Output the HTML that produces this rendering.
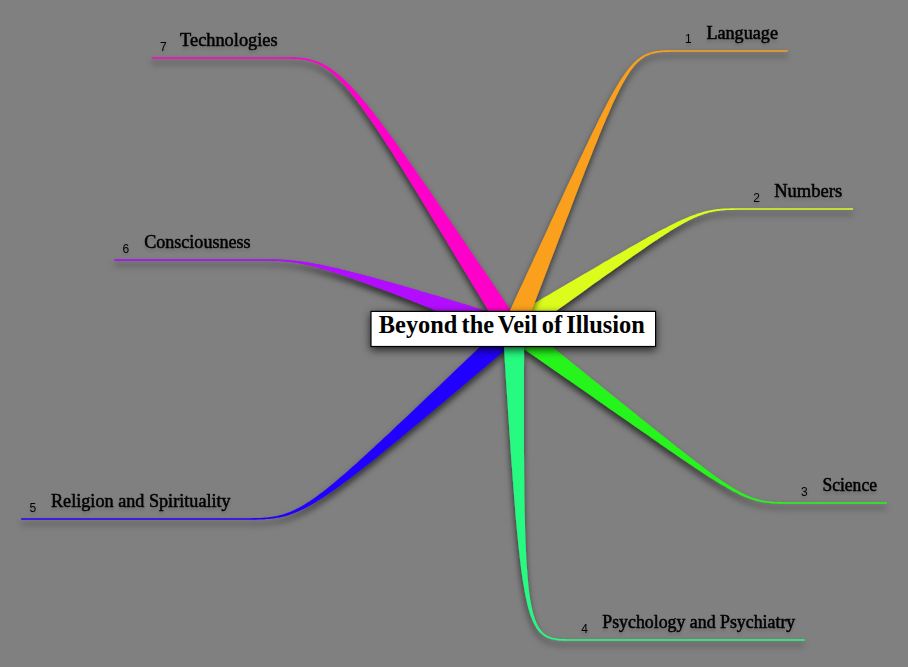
<!DOCTYPE html>
<html><head><meta charset="utf-8"><title>Beyond the Veil of Illusion</title>
<style>
html,body{margin:0;padding:0;background:#808080;}
body{width:908px;height:667px;overflow:hidden;position:relative;font-family:"Liberation Serif",serif;}
svg{position:absolute;left:0;top:0;display:block}
.t{font-family:"Liberation Serif",serif;font-size:18px;fill:#000;stroke:#000;stroke-width:0.5px;}
.n{font-family:"Liberation Sans",sans-serif;font-size:12px;fill:#000;}
.ttl{font-family:"Liberation Serif",serif;font-size:25px;font-weight:bold;fill:#000;word-spacing:-2px;}
</style></head><body>
<svg width="908" height="667" viewBox="0 0 908 667">
<defs>
<filter id="sh" x="-20%" y="-20%" width="140%" height="140%" filterUnits="objectBoundingBox">
<feDropShadow dx="-0.4" dy="4.6" stdDeviation="3" flood-color="#000" flood-opacity="0.64"/>
</filter>
<filter id="shb" x="-10%" y="-40%" width="120%" height="200%">
<feDropShadow dx="0" dy="3" stdDeviation="4" flood-color="#000" flood-opacity="0.72"/>
</filter>
<filter id="sht" x="-10%" y="-40%" width="120%" height="200%">
<feDropShadow dx="0" dy="2.5" stdDeviation="1.6" flood-color="#000" flood-opacity="0.16"/>
</filter>
</defs>
<rect width="908" height="667" fill="#808080"/>
<path d="M516.7,320.3 L510.1,318.2 L503.7,316.2 L497.3,314.2 L491.2,312.3 L485.1,310.5 L479.2,308.7 L473.3,306.9 L467.7,305.1 L462.1,303.4 L456.7,301.8 L451.3,300.2 L446.1,298.6 L441.0,297.1 L436.1,295.6 L431.2,294.2 L426.4,292.8 L421.8,291.4 L417.3,290.1 L412.8,288.8 L408.5,287.5 L404.3,286.3 L400.2,285.1 L396.1,283.9 L392.2,282.8 L388.4,281.7 L384.6,280.7 L381.0,279.7 L377.4,278.7 L373.9,277.7 L370.5,276.8 L367.2,275.9 L364.0,275.1 L360.9,274.3 L357.8,273.5 L354.8,272.7 L351.9,271.9 L349.1,271.2 L346.3,270.5 L343.6,269.9 L341.0,269.3 L338.5,268.6 L336.0,268.1 L333.5,267.5 L331.2,267.0 L328.9,266.5 L326.6,266.0 L324.4,265.5 L322.3,265.1 L320.2,264.6 L318.2,264.2 L316.2,263.9 L314.3,263.5 L312.4,263.2 L310.6,262.8 L308.8,262.5 L307.0,262.2 L305.3,262.0 L303.6,261.7 L301.9,261.5 L300.3,261.3 L298.7,261.0 L297.2,260.9 L295.7,260.7 L294.2,260.5 L292.7,260.4 L291.3,260.2 L289.8,260.1 L288.4,260.0 L287.0,259.9 L285.7,259.8 L284.3,259.7 L283.0,259.6 L281.6,259.5 L280.3,259.5 L279.0,259.4 L277.7,259.4 L276.4,259.3 L275.1,259.3 L273.8,259.3 L272.5,259.3 L271.2,259.2 L269.8,259.2 L268.5,259.2 L267.2,259.2 L265.9,259.2 L264.5,259.2 L263.2,259.2 L261.8,259.2 L260.4,259.2 L114.4,259.2 L114.4,260.8 L260.4,260.8 L261.8,260.8 L263.2,260.8 L264.5,260.8 L265.9,260.8 L267.2,260.8 L268.5,260.8 L269.8,260.8 L271.1,260.9 L272.4,260.9 L273.7,260.9 L275.0,261.0 L276.3,261.0 L277.6,261.1 L278.9,261.1 L280.2,261.2 L281.5,261.3 L282.8,261.4 L284.2,261.5 L285.5,261.6 L286.9,261.7 L288.2,261.9 L289.6,262.0 L291.0,262.2 L292.5,262.4 L293.9,262.6 L295.4,262.8 L296.9,263.1 L298.4,263.3 L299.9,263.6 L301.5,263.9 L303.1,264.2 L304.8,264.6 L306.5,264.9 L308.2,265.3 L310.0,265.7 L311.8,266.2 L313.6,266.6 L315.5,267.1 L317.4,267.6 L319.4,268.2 L321.4,268.7 L323.5,269.3 L325.6,269.9 L327.8,270.6 L330.1,271.3 L332.3,272.0 L334.7,272.7 L337.1,273.5 L339.6,274.3 L342.1,275.1 L344.8,276.0 L347.4,276.9 L350.2,277.8 L353.0,278.8 L355.9,279.8 L358.8,280.9 L361.9,282.0 L365.0,283.1 L368.2,284.2 L371.5,285.5 L374.8,286.7 L378.3,288.0 L381.8,289.3 L385.4,290.7 L389.1,292.1 L392.9,293.6 L396.8,295.1 L400.8,296.6 L404.9,298.2 L409.0,299.8 L413.3,301.5 L417.7,303.3 L422.2,305.1 L426.8,306.9 L431.5,308.8 L436.3,310.7 L441.2,312.7 L446.2,314.7 L451.3,316.8 L456.6,319.0 L462.0,321.2 L467.4,323.4 L473.0,325.7 L478.8,328.1 L484.6,330.5 L490.6,333.0 L496.7,335.5 L502.9,338.1 L509.3,340.7Z" fill="#B208FF" filter="url(#sh)"/>
<path d="M507.0,321.3 L500.1,327.8 L493.4,334.2 L486.8,340.4 L480.4,346.5 L474.1,352.5 L468.0,358.3 L462.0,364.0 L456.2,369.6 L450.5,375.0 L445.0,380.3 L439.6,385.4 L434.3,390.4 L429.1,395.3 L424.1,400.1 L419.2,404.7 L414.5,409.3 L409.8,413.7 L405.3,417.9 L400.9,422.1 L396.6,426.1 L392.5,430.1 L388.4,433.9 L384.4,437.6 L380.6,441.2 L376.8,444.6 L373.2,448.0 L369.6,451.3 L366.2,454.5 L362.8,457.5 L359.5,460.5 L356.4,463.4 L353.3,466.1 L350.3,468.8 L347.3,471.4 L344.5,473.9 L341.7,476.3 L339.0,478.6 L336.4,480.8 L333.8,483.0 L331.3,485.0 L328.9,487.0 L326.5,488.9 L324.2,490.7 L321.9,492.4 L319.7,494.1 L317.6,495.7 L315.5,497.2 L313.4,498.7 L311.4,500.0 L309.5,501.4 L307.6,502.6 L305.7,503.8 L303.8,504.9 L302.0,506.0 L300.2,507.0 L298.5,507.9 L296.7,508.8 L295.0,509.7 L293.3,510.5 L291.7,511.2 L290.0,511.9 L288.4,512.5 L286.8,513.1 L285.1,513.7 L283.5,514.2 L281.9,514.7 L280.3,515.1 L278.7,515.5 L277.1,515.9 L275.5,516.2 L273.8,516.5 L272.2,516.8 L270.5,517.0 L268.9,517.2 L267.2,517.4 L265.5,517.5 L263.7,517.7 L262.0,517.8 L260.2,517.9 L258.4,518.0 L256.6,518.0 L254.7,518.1 L252.8,518.1 L250.8,518.2 L248.8,518.2 L246.8,518.2 L244.7,518.2 L242.6,518.2 L240.4,518.2 L21.1,518.2 L21.1,519.8 L240.4,519.8 L242.6,519.8 L244.7,519.8 L246.8,519.8 L248.8,519.8 L250.8,519.8 L252.8,519.8 L254.7,519.7 L256.6,519.7 L258.5,519.6 L260.3,519.6 L262.1,519.5 L263.9,519.4 L265.6,519.3 L267.3,519.1 L269.1,519.0 L270.8,518.8 L272.4,518.6 L274.1,518.4 L275.8,518.1 L277.5,517.8 L279.1,517.5 L280.8,517.2 L282.5,516.8 L284.1,516.4 L285.8,515.9 L287.5,515.4 L289.2,514.9 L290.9,514.3 L292.7,513.7 L294.4,513.0 L296.2,512.3 L298.0,511.5 L299.8,510.7 L301.7,509.8 L303.6,508.9 L305.5,507.9 L307.5,506.9 L309.5,505.8 L311.5,504.7 L313.6,503.5 L315.7,502.2 L317.9,500.8 L320.1,499.4 L322.4,498.0 L324.8,496.4 L327.2,494.8 L329.6,493.1 L332.2,491.4 L334.8,489.6 L337.4,487.7 L340.2,485.7 L343.0,483.6 L345.8,481.5 L348.8,479.2 L351.8,476.9 L355.0,474.5 L358.2,472.0 L361.5,469.5 L364.9,466.8 L368.4,464.0 L371.9,461.2 L375.6,458.2 L379.4,455.2 L383.3,452.0 L387.2,448.8 L391.3,445.5 L395.5,442.0 L399.9,438.5 L404.3,434.8 L408.8,431.0 L413.5,427.1 L418.3,423.2 L423.2,419.1 L428.3,414.8 L433.4,410.5 L438.7,406.0 L444.2,401.5 L449.7,396.8 L455.5,392.0 L461.3,387.0 L467.3,382.0 L473.5,376.8 L479.8,371.5 L486.2,366.0 L492.8,360.4 L499.6,354.7 L506.5,348.9 L513.6,342.9 L520.8,336.7Z" fill="#2300FF" filter="url(#sh)"/>
<path d="M506.9,337.4 L514.9,342.9 L522.8,348.3 L530.4,353.6 L537.9,358.8 L545.1,363.8 L552.2,368.7 L559.1,373.5 L565.9,378.2 L572.5,382.8 L578.9,387.2 L585.1,391.6 L591.2,395.8 L597.1,399.9 L602.9,404.0 L608.5,407.9 L614.0,411.7 L619.3,415.4 L624.5,419.0 L629.5,422.5 L634.4,426.0 L639.2,429.3 L643.8,432.5 L648.3,435.6 L652.7,438.7 L656.9,441.6 L661.0,444.5 L665.0,447.2 L668.9,449.9 L672.7,452.5 L676.3,455.0 L679.9,457.4 L683.3,459.8 L686.6,462.1 L689.9,464.2 L693.0,466.3 L696.1,468.4 L699.0,470.3 L701.9,472.2 L704.6,474.0 L707.3,475.8 L709.9,477.5 L712.5,479.1 L714.9,480.6 L717.3,482.1 L719.6,483.5 L721.8,484.8 L724.0,486.1 L726.1,487.3 L728.2,488.5 L730.2,489.6 L732.1,490.7 L734.0,491.7 L735.9,492.6 L737.7,493.5 L739.4,494.4 L741.1,495.2 L742.8,496.0 L744.4,496.7 L746.1,497.3 L747.6,498.0 L749.2,498.5 L750.7,499.1 L752.2,499.6 L753.7,500.1 L755.2,500.5 L756.7,500.9 L758.1,501.2 L759.6,501.6 L761.0,501.9 L762.4,502.2 L763.9,502.4 L765.3,502.6 L766.7,502.8 L768.2,503.0 L769.7,503.1 L771.1,503.3 L772.6,503.4 L774.1,503.5 L775.7,503.6 L777.2,503.6 L778.8,503.7 L780.4,503.7 L782.1,503.7 L783.8,503.8 L785.5,503.8 L787.2,503.8 L789.1,503.8 L790.9,503.8 L792.8,503.8 L886.9,503.8 L886.9,502.2 L792.8,502.2 L790.9,502.2 L789.1,502.2 L787.3,502.2 L785.5,502.2 L783.8,502.2 L782.1,502.1 L780.5,502.1 L778.9,502.1 L777.3,502.0 L775.8,501.9 L774.2,501.9 L772.7,501.8 L771.3,501.6 L769.8,501.5 L768.4,501.3 L767.0,501.2 L765.6,501.0 L764.1,500.7 L762.7,500.5 L761.3,500.2 L760.0,499.8 L758.5,499.5 L757.1,499.1 L755.7,498.7 L754.3,498.2 L752.9,497.7 L751.4,497.2 L749.9,496.6 L748.4,496.0 L746.9,495.3 L745.4,494.6 L743.8,493.9 L742.2,493.1 L740.5,492.2 L738.8,491.3 L737.1,490.3 L735.3,489.3 L733.5,488.2 L731.7,487.1 L729.7,485.9 L727.8,484.6 L725.8,483.3 L723.7,481.9 L721.5,480.5 L719.3,478.9 L717.1,477.4 L714.7,475.7 L712.3,474.0 L709.8,472.1 L707.3,470.3 L704.6,468.3 L701.9,466.3 L699.1,464.1 L696.2,461.9 L693.2,459.6 L690.1,457.3 L686.9,454.8 L683.7,452.2 L680.3,449.6 L676.8,446.9 L673.2,444.0 L669.6,441.1 L665.8,438.1 L661.8,435.0 L657.8,431.8 L653.7,428.4 L649.4,425.0 L645.0,421.5 L640.5,417.9 L635.8,414.1 L631.0,410.3 L626.1,406.3 L621.1,402.3 L615.9,398.1 L610.5,393.8 L605.1,389.4 L599.4,384.8 L593.7,380.2 L587.7,375.4 L581.7,370.5 L575.4,365.5 L569.0,360.3 L562.4,355.0 L555.7,349.6 L548.8,344.1 L541.7,338.4 L534.5,332.6 L527.1,326.7 L519.5,320.6Z" fill="#27F51B" filter="url(#sh)"/>
<path d="M519.4,337.4 L525.3,333.2 L531.1,329.0 L536.8,324.9 L542.3,321.0 L547.7,317.1 L553.0,313.3 L558.1,309.6 L563.1,306.0 L568.0,302.5 L572.8,299.0 L577.4,295.7 L582.0,292.4 L586.4,289.2 L590.7,286.1 L594.9,283.1 L599.0,280.2 L603.0,277.3 L606.9,274.6 L610.7,271.9 L614.4,269.2 L618.0,266.7 L621.5,264.2 L624.9,261.8 L628.2,259.5 L631.4,257.2 L634.5,255.0 L637.6,252.9 L640.5,250.9 L643.4,248.9 L646.2,247.0 L648.9,245.1 L651.6,243.3 L654.1,241.6 L656.7,239.9 L659.1,238.3 L661.5,236.7 L663.8,235.2 L666.0,233.8 L668.2,232.4 L670.3,231.1 L672.4,229.8 L674.4,228.6 L676.3,227.4 L678.2,226.3 L680.1,225.2 L681.9,224.2 L683.7,223.2 L685.4,222.3 L687.1,221.4 L688.7,220.5 L690.4,219.7 L691.9,219.0 L693.5,218.3 L695.0,217.6 L696.5,216.9 L697.9,216.3 L699.4,215.8 L700.8,215.2 L702.2,214.7 L703.6,214.2 L704.9,213.8 L706.3,213.4 L707.6,213.0 L708.9,212.6 L710.3,212.3 L711.6,212.0 L712.9,211.7 L714.2,211.5 L715.5,211.3 L716.8,211.1 L718.1,210.9 L719.4,210.7 L720.8,210.5 L722.1,210.4 L723.5,210.3 L724.9,210.2 L726.2,210.1 L727.7,210.0 L729.1,210.0 L730.5,209.9 L732.0,209.9 L733.5,209.9 L735.1,209.8 L736.6,209.8 L738.2,209.8 L739.9,209.8 L741.5,209.8 L743.2,209.8 L745.0,209.8 L853.0,209.8 L853.0,208.2 L745.0,208.2 L743.2,208.2 L741.5,208.2 L739.9,208.2 L738.2,208.2 L736.6,208.2 L735.0,208.2 L733.5,208.3 L732.0,208.3 L730.5,208.3 L729.0,208.4 L727.6,208.4 L726.2,208.5 L724.8,208.5 L723.4,208.6 L722.0,208.7 L720.6,208.8 L719.3,209.0 L717.9,209.1 L716.6,209.3 L715.2,209.4 L713.9,209.6 L712.5,209.9 L711.2,210.1 L709.8,210.4 L708.5,210.6 L707.1,210.9 L705.7,211.3 L704.3,211.6 L702.9,212.0 L701.5,212.4 L700.0,212.9 L698.5,213.3 L697.0,213.8 L695.5,214.4 L693.9,214.9 L692.3,215.5 L690.7,216.1 L689.0,216.8 L687.3,217.5 L685.6,218.2 L683.8,219.0 L682.0,219.8 L680.1,220.7 L678.2,221.6 L676.2,222.5 L674.2,223.5 L672.2,224.5 L670.0,225.6 L667.8,226.7 L665.6,227.9 L663.3,229.1 L660.9,230.3 L658.4,231.6 L655.9,233.0 L653.3,234.4 L650.7,235.8 L647.9,237.3 L645.1,238.9 L642.2,240.5 L639.2,242.2 L636.2,243.9 L633.0,245.7 L629.8,247.5 L626.4,249.4 L623.0,251.4 L619.5,253.4 L615.9,255.5 L612.2,257.6 L608.3,259.9 L604.4,262.1 L600.4,264.5 L596.3,266.9 L592.0,269.4 L587.7,271.9 L583.2,274.5 L578.6,277.2 L573.9,280.0 L569.1,282.8 L564.1,285.7 L559.0,288.7 L553.8,291.7 L548.5,294.9 L543.0,298.1 L537.5,301.4 L531.7,304.7 L525.9,308.2 L519.8,311.7 L513.7,315.3 L507.4,319.0Z" fill="#DCFC1F" filter="url(#sh)"/>
<path d="M520.2,324.3 L514.6,316.0 L509.1,307.9 L503.7,299.9 L498.5,292.1 L493.3,284.5 L488.3,277.1 L483.3,269.8 L478.5,262.7 L473.8,255.7 L469.2,248.9 L464.7,242.2 L460.3,235.7 L456.0,229.4 L451.8,223.2 L447.6,217.2 L443.6,211.3 L439.7,205.5 L435.8,199.9 L432.1,194.5 L428.4,189.1 L424.8,184.0 L421.3,178.9 L417.9,174.0 L414.6,169.2 L411.3,164.6 L408.1,160.0 L405.0,155.6 L402.0,151.4 L399.0,147.2 L396.1,143.2 L393.3,139.3 L390.5,135.5 L387.8,131.9 L385.2,128.3 L382.6,124.9 L380.1,121.5 L377.6,118.3 L375.2,115.2 L372.9,112.2 L370.6,109.3 L368.3,106.5 L366.1,103.8 L364.0,101.2 L361.9,98.7 L359.8,96.3 L357.8,94.0 L355.9,91.8 L353.9,89.6 L352.0,87.6 L350.2,85.6 L348.3,83.7 L346.5,82.0 L344.8,80.2 L343.0,78.6 L341.3,77.0 L339.6,75.6 L338.0,74.2 L336.3,72.8 L334.7,71.6 L333.1,70.4 L331.5,69.2 L330.0,68.2 L328.4,67.2 L326.9,66.2 L325.3,65.3 L323.8,64.5 L322.3,63.7 L320.8,63.0 L319.3,62.4 L317.8,61.7 L316.3,61.2 L314.8,60.7 L313.2,60.2 L311.7,59.8 L310.2,59.4 L308.7,59.0 L307.1,58.7 L305.6,58.4 L304.0,58.2 L302.5,58.0 L300.9,57.8 L299.3,57.6 L297.6,57.5 L296.0,57.4 L294.3,57.3 L292.6,57.3 L290.9,57.2 L289.1,57.2 L287.3,57.2 L151.6,57.2 L151.6,58.8 L287.3,58.8 L289.1,58.8 L290.8,58.8 L292.5,58.9 L294.2,58.9 L295.9,59.0 L297.5,59.1 L299.1,59.3 L300.7,59.4 L302.2,59.6 L303.8,59.9 L305.3,60.1 L306.8,60.4 L308.3,60.8 L309.8,61.1 L311.2,61.5 L312.7,62.0 L314.1,62.5 L315.6,63.0 L317.0,63.6 L318.4,64.3 L319.8,65.0 L321.3,65.7 L322.7,66.5 L324.1,67.4 L325.6,68.3 L327.0,69.3 L328.5,70.3 L329.9,71.4 L331.4,72.6 L332.9,73.8 L334.4,75.2 L335.9,76.5 L337.4,78.0 L339.0,79.5 L340.5,81.1 L342.1,82.8 L343.8,84.6 L345.4,86.5 L347.1,88.4 L348.8,90.4 L350.5,92.5 L352.3,94.8 L354.1,97.1 L356.0,99.4 L357.9,101.9 L359.8,104.5 L361.7,107.2 L363.7,110.0 L365.8,112.9 L367.9,115.9 L370.0,119.0 L372.2,122.2 L374.5,125.6 L376.8,129.0 L379.1,132.6 L381.5,136.2 L384.0,140.0 L386.5,143.9 L389.1,148.0 L391.8,152.1 L394.5,156.4 L397.2,160.8 L400.1,165.4 L403.0,170.1 L406.0,174.9 L409.0,179.8 L412.2,184.9 L415.4,190.1 L418.7,195.5 L422.0,201.0 L425.5,206.6 L429.0,212.4 L432.6,218.4 L436.3,224.5 L440.1,230.7 L444.0,237.1 L448.0,243.7 L452.0,250.4 L456.2,257.2 L460.4,264.3 L464.8,271.5 L469.2,278.8 L473.8,286.4 L478.4,294.1 L483.2,301.9 L488.0,310.0 L493.0,318.2 L498.1,326.6 L503.2,335.1Z" fill="#FF05CB" filter="url(#sh)"/>
<path d="M502.8,328.8 L503.5,339.2 L504.1,349.3 L504.7,359.2 L505.3,368.9 L505.9,378.4 L506.5,387.6 L507.1,396.6 L507.7,405.4 L508.2,414.0 L508.8,422.4 L509.3,430.6 L509.9,438.5 L510.4,446.3 L510.9,453.8 L511.4,461.2 L512.0,468.3 L512.5,475.3 L513.0,482.1 L513.5,488.7 L514.0,495.1 L514.5,501.3 L515.0,507.3 L515.4,513.2 L515.9,518.9 L516.4,524.4 L516.9,529.8 L517.4,534.9 L517.9,540.0 L518.4,544.8 L518.9,549.5 L519.4,554.1 L519.9,558.4 L520.4,562.7 L520.9,566.8 L521.4,570.7 L521.9,574.5 L522.5,578.2 L523.0,581.7 L523.6,585.1 L524.1,588.3 L524.7,591.5 L525.2,594.5 L525.8,597.3 L526.4,600.1 L527.0,602.7 L527.6,605.3 L528.2,607.7 L528.9,610.0 L529.5,612.1 L530.2,614.2 L530.9,616.2 L531.6,618.1 L532.3,619.9 L533.0,621.6 L533.8,623.2 L534.5,624.7 L535.3,626.1 L536.1,627.4 L536.9,628.7 L537.8,629.9 L538.7,631.0 L539.5,632.0 L540.5,632.9 L541.4,633.8 L542.4,634.6 L543.3,635.4 L544.3,636.1 L545.4,636.7 L546.4,637.3 L547.5,637.8 L548.6,638.2 L549.7,638.6 L550.9,639.0 L552.0,639.3 L553.2,639.6 L554.4,639.8 L555.7,640.0 L557.0,640.2 L558.3,640.4 L559.6,640.5 L561.0,640.6 L562.3,640.7 L563.8,640.7 L565.2,640.7 L566.7,640.8 L568.2,640.8 L569.7,640.8 L571.3,640.8 L572.9,640.8 L804.7,640.8 L804.7,639.2 L572.9,639.2 L571.3,639.2 L569.7,639.2 L568.2,639.2 L566.7,639.2 L565.2,639.1 L563.8,639.1 L562.4,639.0 L561.1,639.0 L559.7,638.9 L558.4,638.8 L557.2,638.6 L555.9,638.4 L554.7,638.2 L553.6,638.0 L552.4,637.7 L551.3,637.4 L550.3,637.0 L549.2,636.6 L548.2,636.2 L547.2,635.7 L546.3,635.1 L545.4,634.5 L544.5,633.9 L543.6,633.2 L542.7,632.4 L541.9,631.5 L541.1,630.6 L540.3,629.6 L539.6,628.6 L538.8,627.5 L538.1,626.2 L537.4,625.0 L536.7,623.6 L536.1,622.1 L535.5,620.5 L534.8,618.9 L534.3,617.1 L533.7,615.3 L533.1,613.3 L532.6,611.3 L532.1,609.1 L531.6,606.9 L531.1,604.5 L530.7,602.0 L530.2,599.4 L529.8,596.6 L529.4,593.8 L529.0,590.8 L528.7,587.7 L528.3,584.4 L528.0,581.1 L527.7,577.6 L527.4,573.9 L527.1,570.1 L526.8,566.2 L526.5,562.1 L526.3,557.9 L526.1,553.5 L525.9,549.0 L525.7,544.3 L525.5,539.4 L525.3,534.4 L525.1,529.3 L525.0,523.9 L524.9,518.4 L524.7,512.7 L524.6,506.9 L524.5,500.8 L524.4,494.6 L524.3,488.2 L524.3,481.6 L524.2,474.8 L524.1,467.9 L524.1,460.7 L524.0,453.3 L524.0,445.8 L524.0,438.0 L524.0,430.1 L524.0,421.9 L524.0,413.5 L524.0,404.9 L524.0,396.1 L524.0,387.1 L524.0,377.8 L524.0,368.4 L524.1,358.7 L524.1,348.7 L524.2,338.6 L524.2,328.2Z" fill="#28FA80" filter="url(#sh)"/>
<path d="M523.2,332.5 L526.8,323.2 L530.3,314.0 L533.7,305.0 L537.1,296.3 L540.4,287.7 L543.5,279.4 L546.7,271.2 L549.7,263.3 L552.7,255.5 L555.6,247.9 L558.4,240.6 L561.1,233.4 L563.8,226.4 L566.4,219.6 L569.0,212.9 L571.4,206.5 L573.8,200.2 L576.2,194.1 L578.5,188.1 L580.7,182.3 L582.9,176.7 L585.0,171.3 L587.1,166.0 L589.1,160.9 L591.1,155.9 L593.0,151.1 L594.8,146.4 L596.7,141.9 L598.4,137.5 L600.1,133.3 L601.8,129.2 L603.5,125.2 L605.1,121.4 L606.6,117.7 L608.2,114.2 L609.7,110.8 L611.1,107.5 L612.5,104.3 L613.9,101.3 L615.3,98.4 L616.6,95.6 L618.0,92.9 L619.2,90.3 L620.5,87.8 L621.7,85.5 L623.0,83.2 L624.2,81.1 L625.4,79.0 L626.5,77.1 L627.7,75.2 L628.8,73.5 L629.9,71.8 L631.0,70.2 L632.2,68.7 L633.3,67.3 L634.3,66.0 L635.4,64.7 L636.5,63.6 L637.6,62.5 L638.7,61.4 L639.8,60.5 L640.8,59.6 L641.9,58.8 L643.0,58.0 L644.1,57.3 L645.2,56.6 L646.3,56.0 L647.5,55.5 L648.6,55.0 L649.8,54.5 L651.0,54.1 L652.2,53.8 L653.4,53.4 L654.6,53.2 L655.9,52.9 L657.2,52.7 L658.5,52.5 L659.9,52.3 L661.2,52.2 L662.6,52.1 L664.1,52.0 L665.6,51.9 L667.1,51.9 L668.6,51.9 L670.2,51.8 L671.9,51.8 L673.5,51.8 L675.2,51.8 L677.0,51.8 L787.7,51.8 L787.7,50.2 L677.0,50.2 L675.2,50.2 L673.5,50.2 L671.8,50.2 L670.2,50.2 L668.6,50.2 L667.0,50.3 L665.5,50.3 L664.0,50.4 L662.5,50.5 L661.1,50.6 L659.7,50.7 L658.3,50.9 L656.9,51.0 L655.6,51.3 L654.3,51.5 L653.0,51.8 L651.7,52.1 L650.4,52.5 L649.2,52.9 L648.0,53.3 L646.7,53.8 L645.5,54.4 L644.3,55.0 L643.1,55.6 L641.9,56.3 L640.7,57.1 L639.6,57.9 L638.4,58.8 L637.2,59.8 L636.0,60.8 L634.8,61.9 L633.7,63.1 L632.5,64.3 L631.3,65.6 L630.0,67.0 L628.8,68.5 L627.6,70.1 L626.3,71.7 L625.1,73.5 L623.8,75.3 L622.5,77.2 L621.1,79.2 L619.8,81.3 L618.4,83.6 L617.0,85.9 L615.6,88.3 L614.1,90.8 L612.6,93.5 L611.1,96.2 L609.5,99.1 L607.9,102.1 L606.3,105.2 L604.6,108.4 L602.9,111.7 L601.2,115.2 L599.4,118.8 L597.5,122.5 L595.6,126.4 L593.6,130.4 L591.6,134.5 L589.6,138.8 L587.5,143.2 L585.3,147.7 L583.1,152.4 L580.8,157.3 L578.4,162.3 L576.0,167.4 L573.6,172.7 L571.0,178.2 L568.4,183.8 L565.7,189.6 L563.0,195.6 L560.1,201.7 L557.2,208.0 L554.3,214.4 L551.2,221.1 L548.1,227.9 L544.9,234.9 L541.6,242.1 L538.2,249.4 L534.7,257.0 L531.2,264.7 L527.5,272.6 L523.8,280.7 L519.9,289.0 L516.0,297.5 L512.0,306.2 L507.9,315.2 L503.6,324.3Z" fill="#FAA01B" filter="url(#sh)"/>

<rect x="371.0" y="311.4" width="284.6" height="35.1" fill="#fff" stroke="#000" stroke-width="1.2" filter="url(#shb)"/>
<text x="378.8" y="333" textLength="266" lengthAdjust="spacingAndGlyphs" class="ttl">Beyond the Veil of Illusion</text>
<g filter="url(#sht)">
<text x="706.4" y="39.4" textLength="71.6" lengthAdjust="spacingAndGlyphs" class="t">Language</text><text x="685.0" y="43.1" class="n">1</text>
<text x="774.2" y="196.8" textLength="68" lengthAdjust="spacingAndGlyphs" class="t">Numbers</text><text x="753.3" y="201.7" class="n">2</text>
<text x="822.4" y="490.6" textLength="54.6" lengthAdjust="spacingAndGlyphs" class="t">Science</text><text x="801.0" y="495.7" class="n">3</text>
<text x="602.25" y="627.75" textLength="193" lengthAdjust="spacingAndGlyphs" class="t">Psychology and Psychiatry</text><text x="581.2" y="632.5" class="n">4</text>
<text x="51" y="507.2" textLength="179.7" lengthAdjust="spacingAndGlyphs" class="t">Religion and Spirituality</text><text x="29.6" y="511.7" class="n">5</text>
<text x="144.15" y="247.9" textLength="106.5" lengthAdjust="spacingAndGlyphs" class="t">Consciousness</text><text x="122.6" y="252.6" class="n">6</text>
<text x="180.1" y="45.9" textLength="97.5" lengthAdjust="spacingAndGlyphs" class="t">Technologies</text><text x="160.0" y="50.6" class="n">7</text>

</g>
</svg>
</body></html>
